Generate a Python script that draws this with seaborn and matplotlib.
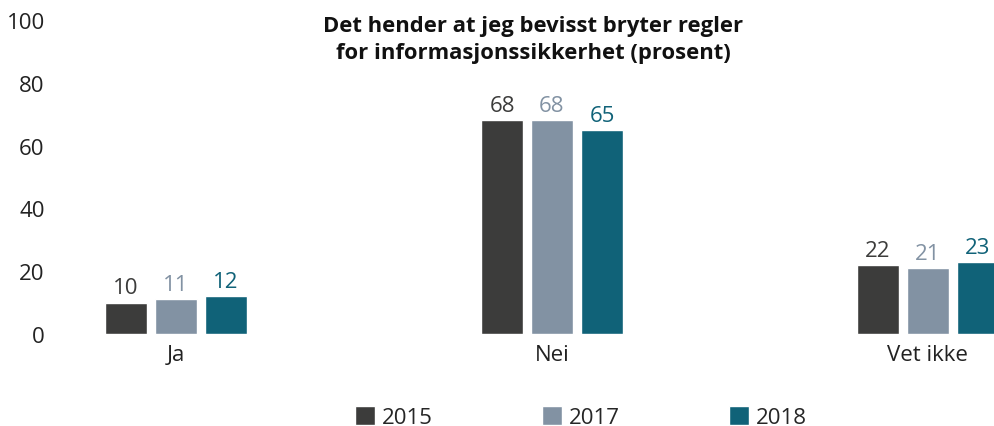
import matplotlib
matplotlib.use("Agg")
import matplotlib.pyplot as plt
import seaborn as sns
import pandas as pd

categories = ["Ja", "Nei", "Vet ikke"]
years = ["2015", "2017", "2018"]
values_2015 = [10, 68, 22]
values_2017 = [11, 68, 21]
values_2018 = [12, 65, 23]
yticks = [0, 20, 40, 60, 80, 100]
title = "Det hender at jeg bevisst bryter regler\nfor informasjonssikkerhet (prosent)"
colors = ["#3c3c3b", "#8292a3", "#106278"]

rows = []
for yr, vals in zip(years, [values_2015, values_2017, values_2018]):
    for c, v in zip(categories, vals):
        rows.append({"kategori": c, "år": yr, "verdi": v})
df = pd.DataFrame(rows)

sns.set_theme(style="white")
plt.rcParams["font.family"] = ["Open Sans", "DejaVu Sans"]

FS = 16
fig = plt.figure(figsize=(9.94, 4.27), dpi=100)
ax = fig.add_axes([60/994, 1 - 335/427, (994-60)/994, (335-21)/427])

sns.barplot(data=df, x="kategori", y="verdi", hue="år", order=categories,
            hue_order=years, palette=colors, width=0.399, gap=0.16,
            saturation=1, ax=ax, legend=True)

for cont, col in zip(ax.containers, colors):
    ax.bar_label(cont, labels=[f"{int(v)}" for v in cont.datavalues],
                 color=col, fontsize=FS, padding=3)

ax.set_ylim(0, 100)
ax.set_xlim(-0.309, 2.176)
ax.set_yticks(yticks)
ax.set_yticklabels([str(t) for t in yticks], fontsize=FS, color="#222222",
                   va="center_baseline")
ax.tick_params(axis="y", length=0, pad=11)
ax.tick_params(axis="x", length=0, pad=7, labelsize=FS, labelcolor="#222222")
ax.set_xlabel("")
ax.set_ylabel("")
for s in ax.spines.values():
    s.set_visible(False)

handles, labels = ax.get_legend_handles_labels()
ax.get_legend().remove()
fig.legend(handles, labels, loc="center", bbox_to_anchor=(581/994, 1 - 418/427),
           ncol=3, frameon=False, fontsize=FS, handlelength=0.9, handleheight=0.9,
           handletextpad=0.32, columnspacing=4.9)

fig.text(533/994, 1 - 40/427, title, ha="center", va="center",
         fontsize=15.8, fontweight="bold", color="#111111", linespacing=1.4)

fig.savefig("out.png", dpi=100)
